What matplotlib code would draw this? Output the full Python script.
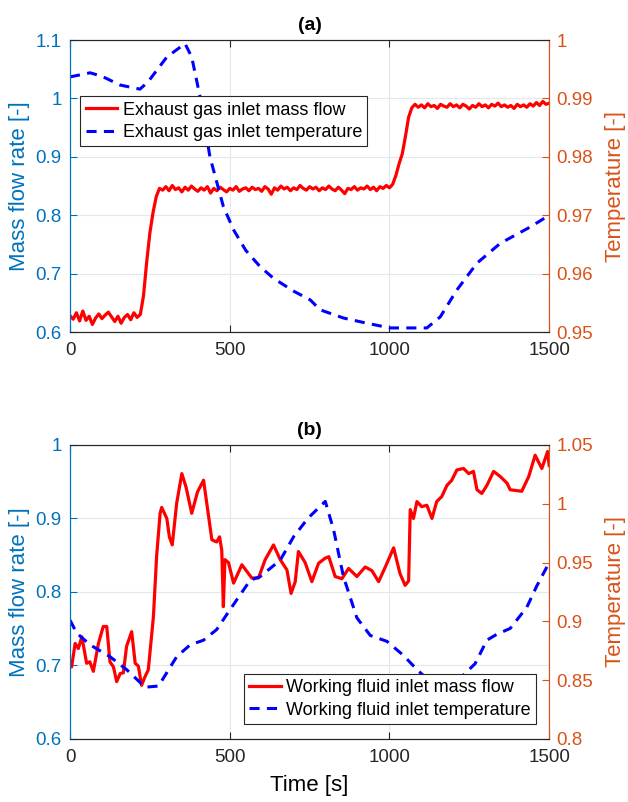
import numpy as np
import matplotlib
matplotlib.use("Agg")
import matplotlib.pyplot as plt
from matplotlib.ticker import FormatStrFormatter

plt.rcParams['font.family'] = ['Liberation Sans', 'DejaVu Sans']

# colores estilo MATLAB
azul_eje = '#0072BD'
naranja_eje = '#D95319'

# ---- (a) gases de escape ----
t_a = np.arange(0, 1510, 10)
m_gas = [0.628, 0.622, 0.633, 0.619, 0.636, 0.620, 0.627, 0.613, 0.624, 0.631,
         0.623, 0.629, 0.634, 0.626, 0.618, 0.627, 0.615, 0.625, 0.630, 0.621,
         0.633, 0.625, 0.630, 0.662, 0.720, 0.770, 0.805, 0.832, 0.846, 0.843,
         0.849, 0.842, 0.851, 0.844, 0.847, 0.840, 0.848, 0.843, 0.850, 0.845,
         0.841, 0.847, 0.843, 0.849, 0.838, 0.846, 0.842, 0.848, 0.844, 0.840,
         0.846, 0.843, 0.849, 0.841, 0.845, 0.847, 0.842, 0.848, 0.844, 0.846,
         0.841, 0.849, 0.845, 0.836, 0.847, 0.843, 0.850, 0.845, 0.848, 0.842,
         0.847, 0.844, 0.851, 0.846, 0.843, 0.849, 0.845, 0.848, 0.842, 0.847,
         0.844, 0.850, 0.845, 0.842, 0.848, 0.843, 0.837, 0.846, 0.844, 0.849,
         0.843, 0.847, 0.845, 0.850, 0.844, 0.848, 0.842, 0.849, 0.846, 0.851,
         0.847, 0.853, 0.868, 0.888, 0.905, 0.935, 0.968, 0.984, 0.990, 0.985,
         0.989, 0.984, 0.991, 0.986, 0.988, 0.983, 0.990, 0.987, 0.985, 0.991,
         0.986, 0.989, 0.984, 0.990, 0.987, 0.982, 0.988, 0.985, 0.991, 0.986,
         0.989, 0.984, 0.990, 0.987, 0.992, 0.986, 0.989, 0.985, 0.988, 0.983,
         0.990, 0.986, 0.989, 0.985, 0.991, 0.987, 0.993, 0.988, 0.995, 0.990,
         0.992]

t_Tgas = [0, 63, 100, 157, 219, 245, 303, 360, 381, 407, 438, 480, 512, 550,
          595, 637, 700, 752, 783, 856, 930, 1002, 1117, 1159, 1211, 1274,
          1347, 1441, 1500]
T_gas = [0.9937, 0.9944, 0.9938, 0.9923, 0.9916, 0.9929, 0.9971, 0.9994,
         0.9971, 0.9903, 0.9800, 0.9715, 0.9675, 0.9640, 0.9612, 0.9592,
         0.9570, 0.9555, 0.9538, 0.9524, 0.9515, 0.9507, 0.9507, 0.9526,
         0.9572, 0.9618, 0.9652, 0.9680, 0.9700]

# ---- (b) fluido de trabajo ----
t_mwf = [0, 5, 16, 26, 37, 52, 62, 73, 89, 104, 115, 125, 136, 146, 157, 167,
         177, 193, 204, 214, 224, 235, 245, 261, 271, 282, 287, 303, 311, 320,
         334, 350, 363, 381, 399, 418, 428, 444, 459, 468, 475, 480, 485, 496,
         512, 538, 569, 590, 611, 637, 658, 679, 692, 705, 715, 736, 757, 778,
         799, 810, 830, 851, 872, 898, 924, 945, 966, 987, 1013, 1033, 1049,
         1060, 1065, 1075, 1086, 1101, 1117, 1133, 1148, 1164, 1180, 1195,
         1211, 1232, 1248, 1263, 1274, 1289, 1305, 1326, 1347, 1368, 1378,
         1414, 1436, 1456, 1477, 1495, 1500]
m_wf = [0.700, 0.698, 0.730, 0.723, 0.739, 0.703, 0.705, 0.692, 0.730, 0.753,
        0.753, 0.705, 0.698, 0.678, 0.689, 0.690, 0.726, 0.746, 0.703, 0.699,
        0.673, 0.685, 0.694, 0.766, 0.848, 0.907, 0.915, 0.900, 0.875, 0.864,
        0.921, 0.961, 0.943, 0.907, 0.936, 0.952, 0.921, 0.871, 0.868, 0.875,
        0.857, 0.780, 0.844, 0.840, 0.812, 0.837, 0.819, 0.819, 0.844, 0.864,
        0.844, 0.830, 0.798, 0.814, 0.855, 0.840, 0.814, 0.839, 0.846, 0.848,
        0.821, 0.818, 0.832, 0.821, 0.834, 0.829, 0.814, 0.834, 0.860, 0.825,
        0.809, 0.815, 0.912, 0.900, 0.923, 0.916, 0.918, 0.900, 0.923, 0.930,
        0.945, 0.952, 0.966, 0.968, 0.961, 0.964, 0.939, 0.934, 0.945, 0.964,
        0.957, 0.948, 0.939, 0.937, 0.957, 0.986, 0.968, 0.991, 0.972]

t_Twf = [0, 21, 63, 125, 177, 235, 277, 334, 376, 418, 459, 501, 564, 595,
         658, 700, 746, 799, 825, 856, 898, 940, 992, 1044, 1086, 1170, 1268,
         1305, 1336, 1378, 1430, 1461, 1500]
T_wf = [0.901, 0.890, 0.880, 0.870, 0.859, 0.844, 0.845, 0.870, 0.880, 0.884,
        0.893, 0.910, 0.935, 0.938, 0.952, 0.972, 0.988, 1.002, 0.978, 0.938,
        0.903, 0.888, 0.883, 0.871, 0.859, 0.838, 0.864, 0.884, 0.889, 0.894,
        0.912, 0.930, 0.950]

fig = plt.figure(figsize=(6.28, 8.02), dpi=100)


def panel(pos, t1, y1, t2, y2, ylim1, yt1, ylim2, yt2, titulo, etiquetas,
          leg_loc, leg_anchor):
    ax = fig.add_axes(pos)
    ax2 = ax.twinx()
    l1, = ax.plot(t1, y1, color='r', lw=2.3)
    l2, = ax2.plot(t2, y2, color='b', lw=2.2, ls=(0, (3.3, 2.4)))
    ax.set_xlim(0, 1500)
    ax.set_xticks([0, 500, 1000, 1500])
    ax.set_ylim(*ylim1)
    ax.set_yticks(yt1)
    ax2.set_ylim(*ylim2)
    ax2.set_yticks(yt2)
    ax.yaxis.set_major_formatter(FormatStrFormatter('%g'))
    ax2.yaxis.set_major_formatter(FormatStrFormatter('%g'))
    ax.grid(True, color='#e3e8ee', lw=0.8)
    ax.set_axisbelow(True)
    ax.tick_params(axis='x', direction='in', top=True, labelsize=13.5,
                   length=5, colors='#262626', pad=7)
    ax.tick_params(axis='y', direction='in', labelsize=13.5, length=5,
                   colors=azul_eje, pad=6)
    ax2.tick_params(axis='y', direction='in', labelsize=13.5, length=5,
                    colors=naranja_eje, pad=5)
    for a in (ax, ax2):
        a.spines['top'].set_color('#262626')
        a.spines['bottom'].set_color('#262626')
        a.spines['left'].set_color(azul_eje)
        a.spines['right'].set_color(naranja_eje)
    ax.set_ylabel('Mass flow rate [-]', color=azul_eje, fontsize=16,
                  labelpad=4)
    ax2.set_ylabel('Temperature [-]', color=naranja_eje, fontsize=16,
                   labelpad=9)
    ax.set_title(titulo, fontsize=14, fontweight='bold', pad=7)
    leg = ax2.legend([l1, l2], etiquetas, loc=leg_loc,
                     bbox_to_anchor=leg_anchor, borderaxespad=0,
                     fontsize=13, fancybox=False,
                     edgecolor='#262626', framealpha=1, handlelength=1.75,
                     borderpad=0.3, labelspacing=0.3, handletextpad=0.3)
    leg.get_frame().set_linewidth(0.8)
    return ax, ax2


panel([0.1115, 0.586, 0.763, 0.364], t_a, m_gas, t_Tgas, T_gas,
      (0.6, 1.1), [0.6, 0.7, 0.8, 0.9, 1.0, 1.1],
      (0.95, 1.0), [0.95, 0.96, 0.97, 0.98, 0.99, 1.0], '(a)',
      ['Exhaust gas inlet mass flow', 'Exhaust gas inlet temperature'],
      'upper left', (0.021, 0.808))

axb, axb2 = panel([0.1115, 0.0786, 0.763, 0.3666], t_mwf, m_wf, t_Twf, T_wf,
                  (0.6, 1.0), [0.6, 0.7, 0.8, 0.9, 1.0],
                  (0.8, 1.05), [0.8, 0.85, 0.9, 0.95, 1.0, 1.05], '(b)',
                  ['Working fluid inlet mass flow',
                   'Working fluid inlet temperature'],
                  'lower right', (0.973, 0.051))
axb.set_xlabel('Time [s]', fontsize=16, labelpad=7)

fig.savefig('out.png', dpi=100)
